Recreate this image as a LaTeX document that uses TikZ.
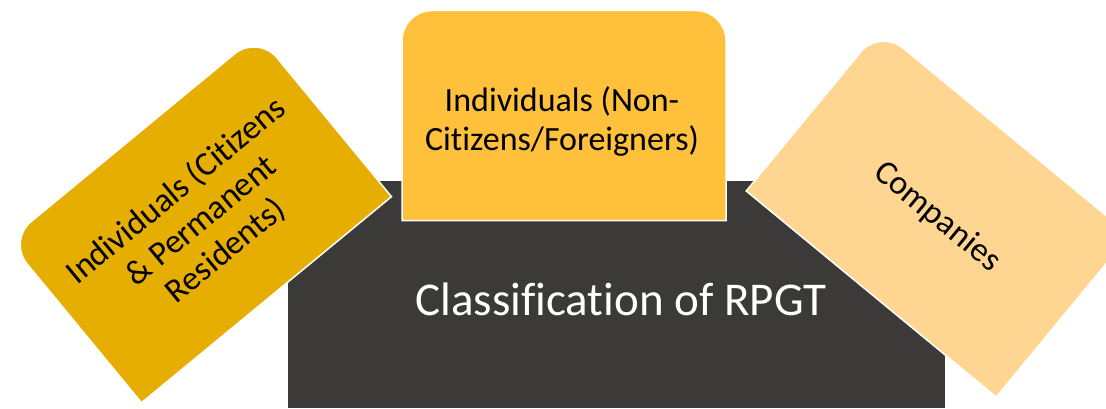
\documentclass[tikz,border=0pt]{standalone}
\usepackage{fontspec}
\setmainfont{Carlito}[Ligatures=CommonOff]

\definecolor{slate}{HTML}{3B3A38}
\definecolor{gold}{HTML}{E6AE00}
\definecolor{amber}{HTML}{FFC13C}
\definecolor{sand}{HTML}{FFD592}

\begin{document}
\begin{tikzpicture}[
		x=1pt, y=1pt,
		card/.style={draw=white, line width=1.5pt},
		cardtext/.style={align=center, text=black, inner sep=0pt, font=\fontsize{34}{39}\selectfont},
		titletext/.style={text=white, inner sep=0pt, font=\fontsize{47}{56}\selectfont}
		]
		\clip (0,0) rectangle (1106,408);
		
		% dark base
		\fill[slate] (288,0) rectangle (945,227);
		\node[titletext, anchor=base] (title) at (621,93) {Classification of RPGT};
		
		% left card
		\begin{scope}[shift={(199.7,189.3)}, rotate=39.5]
			\path[card, fill=gold] (-162,-105) -- (-162,75) arc[start angle=180, end angle=90, radius=30pt]
				-- (132,105) arc[start angle=90, end angle=0, radius=30pt] -- (162,-105) -- cycle;
		\end{scope}
		\node[cardtext, rotate=39.5] (citizens) at (201,187) {Individuals (Citizens\\\& Permanent\\Residents)};
		
		% middle card
		\begin{scope}[shift={(564,292.5)}]
			\path[card, fill=amber] (-162,-105) -- (-162,75) arc[start angle=180, end angle=90, radius=30pt]
				-- (132,105) arc[start angle=90, end angle=0, radius=30pt] -- (162,-105) -- cycle;
		\end{scope}
		\node[cardtext] (foreigners) at (562,287) {Individuals (Non-\\Citizens/Foreigners)};
		
		% right card
		\begin{scope}[shift={(938,195)}, rotate=-39.5]
			\path[card, fill=sand] (-162,-105) -- (-162,75) arc[start angle=180, end angle=90, radius=30pt]
				-- (132,105) arc[start angle=90, end angle=0, radius=30pt] -- (162,-105) -- cycle;
		\end{scope}
		\node[cardtext, rotate=-39.5] (companies) at (937,191) {Companies};
\end{tikzpicture}
\end{document}
